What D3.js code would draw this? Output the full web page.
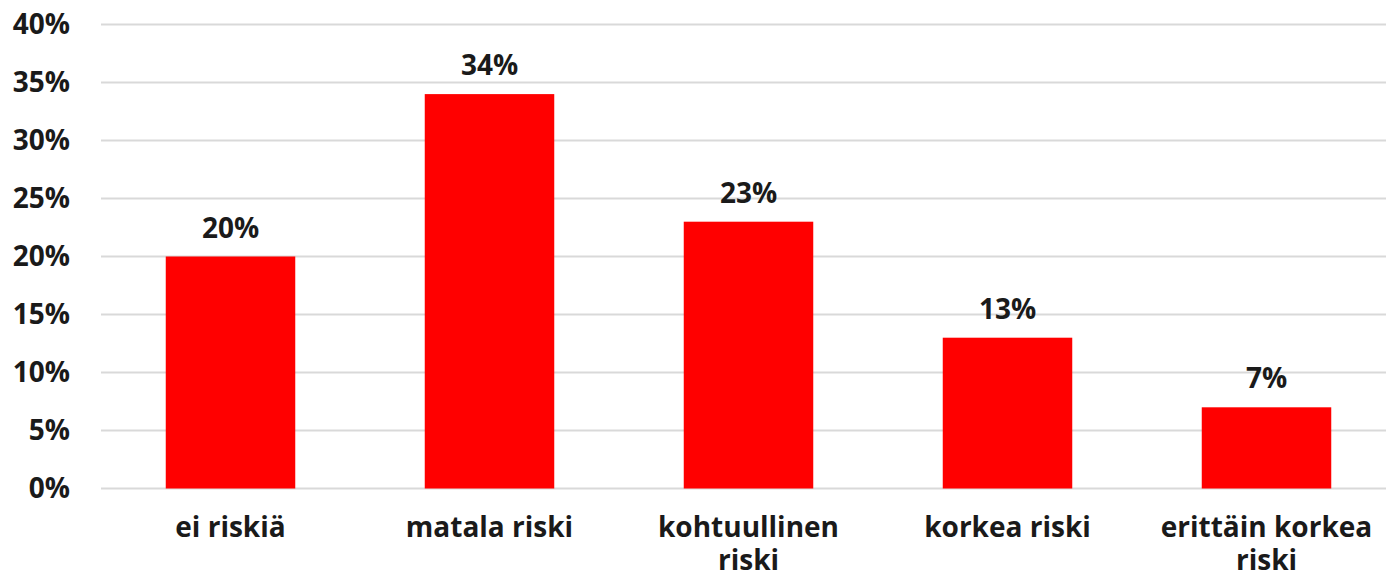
<!DOCTYPE html>
<html>
<head>
  <style>
    body { margin: 0; background: #fff; }
    text { font-family: "Open Sans", sans-serif; font-weight: 700; fill: #1a1a1a; }
  </style>
  <script src="https://d3js.org/d3.v7.min.js"></script>
</head>
<body>
  <svg id="chart" width="1386" height="576"></svg>
  <script>
    const categories = ["ei riskiä", "matala riski", "kohtuullinen riski", "korkea riski", "erittäin korkea riski"];
    const labelLines = [["ei riskiä"], ["matala riski"], ["kohtuullinen", "riski"], ["korkea riski"], ["erittäin korkea", "riski"]];
    const values = [20, 34, 23, 13, 7];
    const yTicks = [0, 5, 10, 15, 20, 25, 30, 35, 40];

    const svg = d3.select("#chart");
    const W = 1386;

    const x = d3.scaleBand().domain(categories).range([101, 1396]).paddingInner(0.5).paddingOuter(0.25);
    const y = d3.scaleLinear().domain([0, 40]).range([488.5, 24.5]);

    // gridlines
    svg.append("g")
      .selectAll("line")
      .data(yTicks)
      .enter()
      .append("line")
      .attr("x1", 101)
      .attr("x2", W)
      .attr("y1", d => y(d))
      .attr("y2", d => y(d))
      .attr("stroke", "#d9d9d9")
      .attr("stroke-width", 2);

    // y tick labels
    svg.append("g")
      .selectAll("text")
      .data(yTicks)
      .enter()
      .append("text")
      .attr("x", 70)
      .attr("y", d => y(d))
      .attr("dy", "0.35em")
      .attr("text-anchor", "end")
      .style("font-size", "28px")
      .text(d => d + "%");

    // bars
    svg.append("g")
      .selectAll("rect")
      .data(values)
      .enter()
      .append("rect")
      .attr("x", (d, i) => x(categories[i]))
      .attr("width", x.bandwidth())
      .attr("y", d => y(d))
      .attr("height", d => y(0) - y(d))
      .attr("fill", "#ff0000");

    // value labels
    svg.append("g")
      .selectAll("text")
      .data(values)
      .enter()
      .append("text")
      .attr("x", (d, i) => x(categories[i]) + x.bandwidth() / 2)
      .attr("y", d => y(d) - 19)
      .attr("text-anchor", "middle")
      .style("font-size", "28px")
      .text(d => d + "%");

    // category labels
    const cat = svg.append("g")
      .selectAll("text")
      .data(categories)
      .enter()
      .append("text")
      .attr("x", d => x(d) + x.bandwidth() / 2)
      .attr("y", 537)
      .attr("text-anchor", "middle")
      .style("font-size", "28px");

    cat.selectAll("tspan")
      .data((d, i) => labelLines[i])
      .enter()
      .append("tspan")
      .attr("x", function () { return d3.select(this.parentNode).attr("x"); })
      .attr("dy", (d, i) => i === 0 ? 0 : 33)
      .text(d => d);
  </script>
</body>
</html>
